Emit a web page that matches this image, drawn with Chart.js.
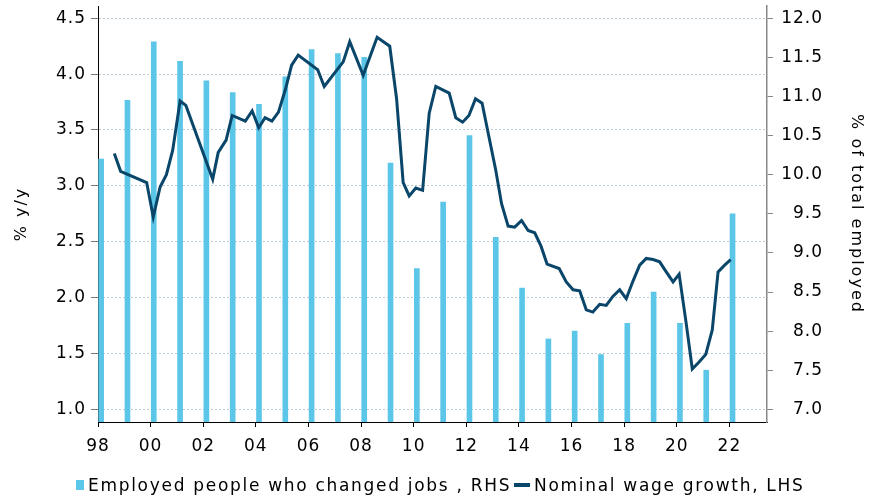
<!DOCTYPE html>
<html><head><meta charset="utf-8">
<script src="https://cdn.jsdelivr.net/npm/chart.js@4.4.1/dist/chart.umd.min.js"></script>
<style>
html,body{margin:0;padding:0;background:#fff;}
#wrap{position:relative;width:873px;height:500px;overflow:hidden;}
canvas{position:absolute;left:0;top:0;}
#legend{position:absolute;left:0;top:474px;width:873px;height:24px;font-family:"DejaVu Sans";font-size:17px;letter-spacing:1.7px;color:#000;}
.item{position:absolute;top:0;height:22px;display:flex;align-items:center;white-space:nowrap;}
.sw{display:inline-block;margin-right:4px;}
</style></head>
<body><div id="wrap"><canvas id="c" width="873" height="500"></canvas>
<div id="legend"></div></div>
<script>
// ---- data ----
const barYears = [1998,1999,2000,2001,2002,2003,2004,2005,2006,2007,2008,2009,2010,2011,2012,2013,2014,2015,2016,2017,2018,2019,2020,2021,2022];
const barDates = [1998.12,1999.12,2000.12,2001.12,2002.12,2003.12,2004.12,2005.12,2006.12,2007.12,2008.12,2009.12,2010.12,2011.12,2012.12,2013.12,2014.12,2015.12,2016.12,2017.12,2018.12,2019.12,2020.12,2021.12,2022.12];
const jobChangers = [10.2,10.95,11.7,11.45,11.2,11.05,10.9,11.25,11.6,11.55,11.5,10.15,8.8,9.65,10.5,9.2,8.55,7.9,8.0,7.7,8.1,8.5,8.1,7.5,9.5];
const wageDates = [1998.62,1998.86,1999.85,2000.10,2000.36,2000.60,2000.84,2001.12,2001.34,2002.36,2002.57,2002.87,2003.10,2003.60,2003.86,2004.11,2004.35,2004.61,2004.86,2005.12,2005.36,2005.61,2006.35,2006.60,2007.32,2007.57,2008.08,2008.61,2009.09,2009.35,2009.60,2009.83,2010.08,2010.34,2010.59,2010.84,2011.35,2011.60,2011.86,2012.10,2012.35,2012.60,2012.86,2013.12,2013.34,2013.59,2013.84,2014.10,2014.35,2014.60,2014.84,2015.07,2015.53,2015.80,2016.06,2016.31,2016.56,2016.81,2017.07,2017.32,2017.57,2017.83,2018.08,2018.34,2018.59,2018.84,2019.10,2019.35,2019.60,2019.86,2020.09,2020.34,2020.59,2020.84,2021.10,2021.35,2021.57,2021.82,2022.05];
const wageGrowth = [3.29,3.13,3.03,2.72,2.99,3.10,3.32,3.76,3.72,3.06,3.30,3.41,3.63,3.58,3.67,3.52,3.61,3.58,3.66,3.86,4.08,4.17,4.04,3.89,4.11,4.29,3.99,4.33,4.25,3.78,3.03,2.91,2.98,2.96,3.65,3.89,3.83,3.61,3.57,3.63,3.78,3.74,3.44,3.14,2.84,2.64,2.63,2.69,2.60,2.58,2.46,2.30,2.26,2.14,2.07,2.06,1.89,1.87,1.94,1.93,2.01,2.07,1.99,2.15,2.29,2.35,2.34,2.32,2.23,2.14,2.21,1.80,1.36,1.42,1.49,1.71,2.23,2.29,2.34];
const xTickYears = [1998,2000,2002,2004,2006,2008,2010,2012,2014,2016,2018,2020,2022];
const leftTicks = [1.0,1.5,2.0,2.5,3.0,3.5,4.0,4.5];
const rightTicks = [7.0,7.5,8.0,8.5,9.0,9.5,10.0,10.5,11.0,11.5,12.0];
const barLabel = 'Employed people who changed jobs , RHS';
const lineLabel = 'Nominal wage growth, LHS';
const leftTitle = '% y/y';
const rightTitle = '% of total employed';

const BAR_COLOR = '#5CC6E8';
const LINE_COLOR = '#0A4669';

Chart.defaults.font.family = 'DejaVu Sans';
Chart.defaults.font.size = 17;
Chart.defaults.color = '#000';

const TICK_SPACING = '1px';
const TITLE_SPACING = '2px';
const textSpacing = {
  id: 'textSpacing',
  beforeUpdate(c){ c.ctx.letterSpacing = TICK_SPACING; },
  beforeDraw(c){ c.ctx.letterSpacing = TICK_SPACING; },
  afterDatasetsDraw(c){ c.ctx.letterSpacing = TITLE_SPACING; }
};

const zeroPad = s => { s.paddingTop = 0; s.paddingBottom = 0; s.paddingLeft = 0; s.paddingRight = 0; };
const titleOnly = (position, text, width, pad) => ({
  type: 'linear', position, weight: 1, min: 0, max: 1,
  ticks: { display: false },
  grid: { display: false, drawTicks: false, z: 1 },
  border: { display: false },
  title: { display: true, text, font: { size: 16 }, padding: { top: pad, bottom: 0 } },
  afterFit: s => { s.width = width; zeroPad(s); }
});

new Chart(document.getElementById('c'), {
  type: 'bar',
  data: {
    datasets: [
      { type: 'line', label: lineLabel, data: wageDates.map((d,i)=>({x:d, y:wageGrowth[i]})),
        yAxisID: 'y', xAxisID: 'x', borderColor: LINE_COLOR, borderWidth: 3, pointRadius: 0, tension: 0, order: 0, fill: false },
      { type: 'bar', label: barLabel, data: barDates.map((d,i)=>({x:d, y:jobChangers[i]})),
        yAxisID: 'y2', xAxisID: 'x', backgroundColor: BAR_COLOR, barThickness: 5, order: 1, base: 6.838 }
    ]
  },
  options: {
    responsive: false, animation: false, devicePixelRatio: 1,
    layout: { padding: { top: 6, left: 0, right: 0, bottom: 0 } },
    plugins: { legend: { display: false }, tooltip: { enabled: false } },
    scales: {
      x: {
        type: 'linear', position: 'bottom', min: 1998, max: 2023.43, offset: false,
        grid: { display: true, drawOnChartArea: false, drawTicks: true, tickLength: 5, tickColor: '#000', offset: false },
        border: { display: true, color: '#000', width: 1 },
        afterBuildTicks: s => { s.ticks = xTickYears.map(v => ({ value: v })); },
        ticks: { autoSkip: false, maxRotation: 0, minRotation: 0, padding: 9, callback: v => String(v % 100).padStart(2, '0') },
        afterFit: s => { s.height = 78; zeroPad(s); }
      },
      y: {
        type: 'linear', position: 'left', weight: 0, min: 0.886, max: 4.61,
        afterBuildTicks: s => { s.ticks = leftTicks.map(v => ({ value: v })); },
        grid: { drawOnChartArea: true, color: '#b9c9d6', lineWidth: 1, drawTicks: true, tickLength: 7, tickColor: '#777' },
        border: { display: true, color: '#000', width: 1, dash: [2, 2] },
        ticks: { padding: 5, callback: v => Number(v).toFixed(1) },
        afterFit: s => { s.width = 62; zeroPad(s); }
      },
      yTitle: titleOnly('left', leftTitle, 36, 12),
      y2: {
        type: 'linear', position: 'right', weight: 0, min: 6.838, max: 12.157,
        afterBuildTicks: s => { s.ticks = rightTicks.map(v => ({ value: v })); },
        grid: { drawOnChartArea: false, drawTicks: true, tickLength: 6, tickColor: '#888' },
        border: { display: true, color: '#888', width: 1.5 },
        ticks: { padding: 7, crossAlign: 'far', callback: v => Number(v).toFixed(1) },
        afterFit: s => { s.width = 56; zeroPad(s); }
      },
      y2Title: titleOnly('right', rightTitle, 50, 7)
    }
  },
  plugins: [textSpacing]
});

// HTML legend
const lg = document.getElementById('legend');
function addItem(left, swatchStyle, text){
  const d = document.createElement('div'); d.className = 'item'; d.style.left = left + 'px';
  const s = document.createElement('span'); s.className = 'sw'; Object.assign(s.style, swatchStyle);
  const t = document.createElement('span'); t.textContent = text;
  d.appendChild(s); d.appendChild(t); lg.appendChild(d);
}
addItem(76, { width: '8px', height: '10px', background: BAR_COLOR }, barLabel);
addItem(514, { width: '16px', height: '4px', background: LINE_COLOR }, lineLabel);
</script>
</body></html>
